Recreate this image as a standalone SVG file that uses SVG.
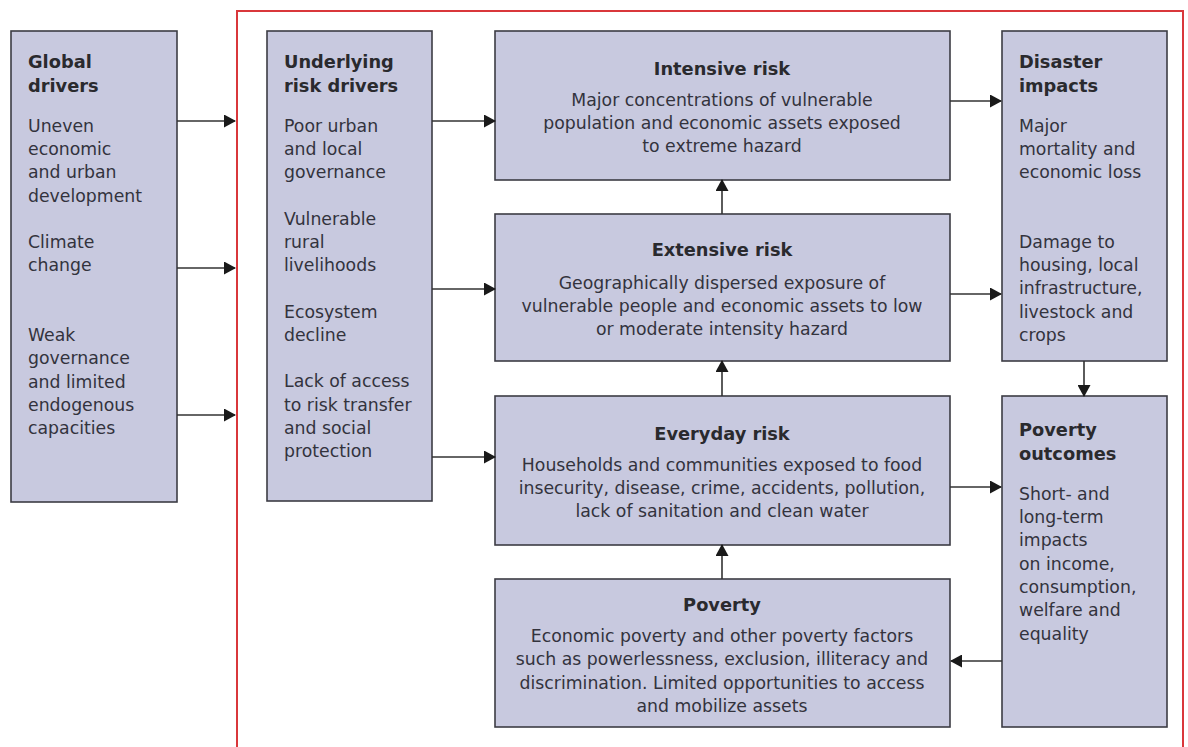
<svg xmlns="http://www.w3.org/2000/svg" width="1188" height="747" viewBox="0 0 1188 747">
<defs>
<marker id="ah" markerWidth="12" markerHeight="13" refX="11" refY="6.5" orient="auto" markerUnits="userSpaceOnUse"><path d="M0,0 L12,6.5 L0,13 Z" fill="#1a1a1a"/></marker>
<style>
.box{fill:#c8c9df;stroke:#3c3c44;stroke-width:1.6}
.t{font-family:"DejaVu Sans","Liberation Sans",sans-serif;font-size:17.8px;font-weight:bold;fill:#2a2a2e}
.b{font-family:"DejaVu Sans","Liberation Sans",sans-serif;font-size:17.3px;fill:#33333d}
.c{text-anchor:middle}
.ln{stroke:#333;stroke-width:1.6;fill:none;marker-end:url(#ah)}
</style>
</defs>
<rect width="1188" height="747" fill="#fff"/>
<path d="M237,760 L237,11 L1183,11 L1183,760" fill="none" stroke="#d9373b" stroke-width="2"/>
<g id="global">
<rect class="box" x="11" y="31" width="166" height="471"/>
<text class="t" x="28" y="68">Global</text><text class="t" x="28" y="92">drivers</text>
<text class="b" x="28" y="132">Uneven</text><text class="b" x="28" y="155">economic</text><text class="b" x="28" y="178">and urban</text><text class="b" x="28" y="202">development</text>
<text class="b" x="28" y="248">Climate</text><text class="b" x="28" y="271">change</text>
<text class="b" x="28" y="341">Weak</text><text class="b" x="28" y="364">governance</text><text class="b" x="28" y="388">and limited</text><text class="b" x="28" y="411">endogenous</text><text class="b" x="28" y="434">capacities</text>
</g>
<g id="underlying">
<rect class="box" x="267" y="31" width="165" height="470"/>
<text class="t" x="284" y="68">Underlying</text><text class="t" x="284" y="92">risk drivers</text>
<text class="b" x="284" y="132">Poor urban</text><text class="b" x="284" y="155">and local</text><text class="b" x="284" y="178">governance</text>
<text class="b" x="284" y="225">Vulnerable</text><text class="b" x="284" y="248">rural</text><text class="b" x="284" y="271">livelihoods</text>
<text class="b" x="284" y="318">Ecosystem</text><text class="b" x="284" y="341">decline</text>
<text class="b" x="284" y="387">Lack of access</text><text class="b" x="284" y="411">to risk transfer</text><text class="b" x="284" y="434">and social</text><text class="b" x="284" y="457">protection</text>
</g>
<g id="intensive">
<rect class="box" x="495" y="31" width="455" height="149"/>
<text class="t c" x="722" y="75">Intensive risk</text>
<text class="b c" x="722" y="106">Major concentrations of vulnerable</text>
<text class="b c" x="722" y="129">population and economic assets exposed</text>
<text class="b c" x="722" y="152">to extreme hazard</text>
</g>
<g id="extensive">
<rect class="box" x="495" y="214" width="455" height="147"/>
<text class="t c" x="722" y="256">Extensive risk</text>
<text class="b c" x="722" y="289">Geographically dispersed exposure of</text>
<text class="b c" x="722" y="312">vulnerable people and economic assets to low</text>
<text class="b c" x="722" y="335">or moderate intensity hazard</text>
</g>
<g id="everyday">
<rect class="box" x="495" y="396" width="455" height="149"/>
<text class="t c" x="722" y="440">Everyday risk</text>
<text class="b c" x="722" y="471">Households and communities exposed to food</text>
<text class="b c" x="722" y="494">insecurity, disease, crime, accidents, pollution,</text>
<text class="b c" x="722" y="517">lack of sanitation and clean water</text>
</g>
<g id="poverty">
<rect class="box" x="495" y="579" width="455" height="148"/>
<text class="t c" x="722" y="611">Poverty</text>
<text class="b c" x="722" y="642">Economic poverty and other poverty factors</text>
<text class="b c" x="722" y="665">such as powerlessness, exclusion, illiteracy and</text>
<text class="b c" x="722" y="689">discrimination. Limited opportunities to access</text>
<text class="b c" x="722" y="712">and mobilize assets</text>
</g>
<g id="disaster">
<rect class="box" x="1002" y="31" width="165" height="330"/>
<text class="t" x="1019" y="68">Disaster</text><text class="t" x="1019" y="92">impacts</text>
<text class="b" x="1019" y="132">Major</text><text class="b" x="1019" y="155">mortality and</text><text class="b" x="1019" y="178">economic loss</text>
<text class="b" x="1019" y="248">Damage to</text><text class="b" x="1019" y="271">housing, local</text><text class="b" x="1019" y="294">infrastructure,</text><text class="b" x="1019" y="318">livestock and</text><text class="b" x="1019" y="341">crops</text>
</g>
<g id="outcomes">
<rect class="box" x="1002" y="396" width="165" height="331"/>
<text class="t" x="1019" y="436">Poverty</text><text class="t" x="1019" y="460">outcomes</text>
<text class="b" x="1019" y="500">Short- and</text><text class="b" x="1019" y="523">long-term</text><text class="b" x="1019" y="546">impacts</text><text class="b" x="1019" y="570">on income,</text><text class="b" x="1019" y="593">consumption,</text><text class="b" x="1019" y="616">welfare and</text><text class="b" x="1019" y="640">equality</text>
</g>
<g id="connectors">
<path class="ln" d="M177,121 H235"/>
<path class="ln" d="M177,268 H235"/>
<path class="ln" d="M177,415 H235"/>
<path class="ln" d="M432,121 H495"/>
<path class="ln" d="M432,289 H495"/>
<path class="ln" d="M432,457 H495"/>
<path class="ln" d="M950,101 H1001"/>
<path class="ln" d="M950,294 H1001"/>
<path class="ln" d="M950,487 H1001"/>
<path class="ln" d="M1084,361 V396"/>
<path class="ln" d="M1002,661 H951"/>
<path class="ln" d="M722,579 V545"/>
<path class="ln" d="M722,396 V361"/>
<path class="ln" d="M722,214 V180"/>
</g>
</svg>
